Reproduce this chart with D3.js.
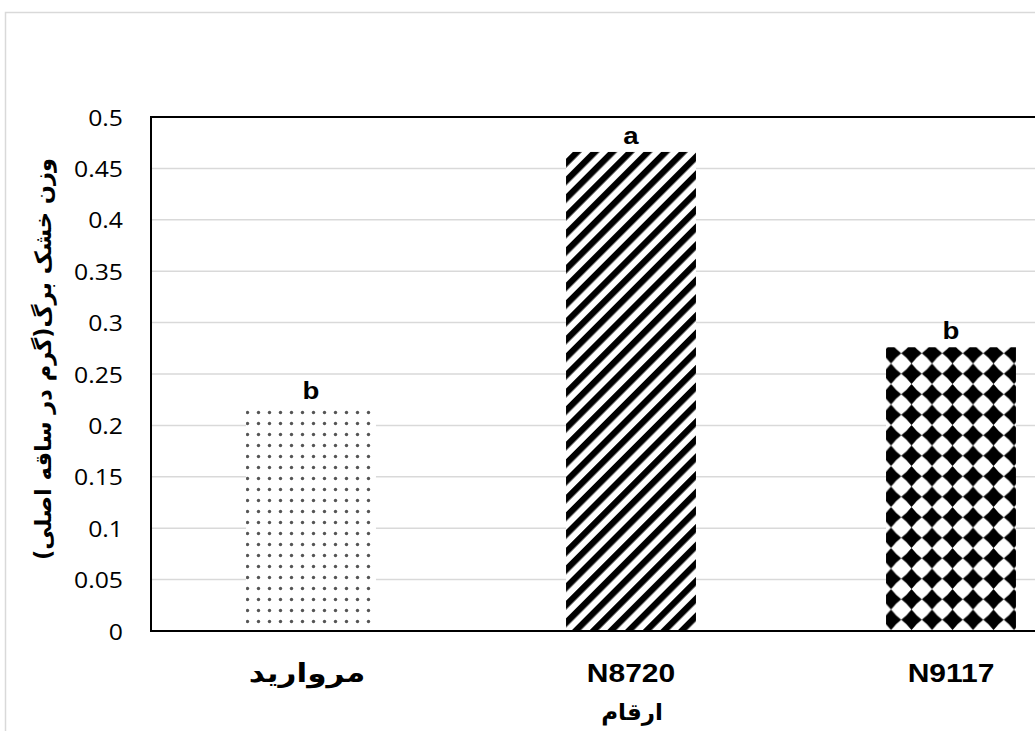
<!DOCTYPE html>
<html lang="fa">
<head>
<meta charset="UTF-8">
<title>وزن خشک برگ</title>
<script src="https://d3js.org/d3.v7.min.js"></script>
<style>
    body { margin: 0; background: #fff; }
    svg { display: block; }
</style>
</head>
<body>
<div id="chart"></div>
<script>
// Data
const categories = ["مرواريد", "N8720", "N9117"];
const values = [0.218, 0.466, 0.276];
const letters = ["b", "a", "b"];
const yTicks = [0, 0.05, 0.1, 0.15, 0.2, 0.25, 0.3, 0.35, 0.4, 0.45, 0.5];
const yTitle = "وزن خشک برگ(گرم در ساقه اصلی)";
const xTitle = "ارقام";

const width = 1035, height = 731;
const plot = { left: 151, top: 117, right: 1111, bottom: 631 };

const svg = d3.select("#chart").append("svg")
    .attr("width", width)
    .attr("height", height);

// Outer chart frame (cut off at the right and bottom)
svg.append("rect")
    .attr("x", 5.5).attr("y", 12.5)
    .attr("width", 1100).attr("height", 800)
    .attr("fill", "#fff")
    .attr("stroke", "#d9d9d9")
    .attr("stroke-width", 1.5);

const x = d3.scaleBand()
    .domain(categories)
    .range([plot.left, plot.right])
    .paddingInner(0.594)
    .paddingOuter(0.297);

const y = d3.scaleLinear()
    .domain([0, 0.5])
    .range([plot.bottom, plot.top]);

// Patterns
const defs = svg.append("defs");

const dots = defs.append("pattern")
    .attr("id", "dots")
    .attr("patternUnits", "userSpaceOnUse")
    .attr("width", 11).attr("height", 11);
dots.append("rect").attr("width", 11).attr("height", 11).attr("fill", "#fff");
dots.append("circle").attr("cx", 5.5).attr("cy", 5.5).attr("r", 1.7).attr("fill", "#555");

const stripes = defs.append("pattern")
    .attr("id", "stripes")
    .attr("patternUnits", "userSpaceOnUse")
    .attr("width", 12.5).attr("height", 12.5)
    .attr("patternTransform", "rotate(45)");
stripes.append("rect").attr("width", 12.5).attr("height", 12.5).attr("fill", "#fff");
stripes.append("rect").attr("width", 6.3).attr("height", 12.5).attr("fill", "#000");

// concave diamond, tips almost touching the neighbours
const tile = 20.5, c = tile / 2, tip = 10.2, k = 4.4;
const diamonds = defs.append("pattern")
    .attr("id", "diamonds")
    .attr("patternUnits", "userSpaceOnUse")
    .attr("x", x("N9117") + 5 - c)
    .attr("y", y(values[2]) + 6 - c)
    .attr("width", tile).attr("height", tile);
diamonds.append("rect").attr("width", tile).attr("height", tile).attr("fill", "#fff");
diamonds.append("path")
    .attr("d", `M${c},${c - tip}Q${c + k},${c - k} ${c + tip},${c}Q${c + k},${c + k} ${c},${c + tip}` +
               `Q${c - k},${c + k} ${c - tip},${c}Q${c - k},${c - k} ${c},${c - tip}Z`)
    .attr("fill", "#000");

const fills = ["url(#dots)", "url(#stripes)", "url(#diamonds)"];

// Gridlines
svg.append("g")
    .selectAll("line")
    .data(yTicks.slice(1))
    .join("line")
    .attr("x1", plot.left).attr("x2", plot.right)
    .attr("y1", d => y(d)).attr("y2", d => y(d))
    .attr("stroke", "#d9d9d9")
    .attr("stroke-width", 1.5);

// Bars
svg.append("g")
    .selectAll("rect")
    .data(values)
    .join("rect")
    .attr("x", (d, i) => x(categories[i]))
    .attr("y", d => y(d))
    .attr("width", x.bandwidth())
    .attr("height", d => y(0) - y(d))
    .attr("fill", (d, i) => fills[i]);

// Plot frame
svg.append("path")
    .attr("d", `M${plot.right},${plot.top}H${plot.left}V${plot.bottom}H${plot.right}`)
    .attr("fill", "none")
    .attr("stroke", "#000")
    .attr("stroke-width", 2);

// Y tick labels
svg.append("g")
    .selectAll("text")
    .data(yTicks)
    .join("text")
    .attr("transform", d => `translate(123,${y(d)}) scale(1.1,1)`)
    .attr("text-anchor", "end")
    .attr("dominant-baseline", "central")
    .attr("font-family", "'Open Sans', sans-serif")
    .attr("font-size", 22.5)
    .attr("fill", "#000")
    .text(d => d);

// Significance letters
svg.append("g")
    .selectAll("text")
    .data(values)
    .join("text")
    .attr("transform", (d, i) => `translate(${x(categories[i]) + x.bandwidth() / 2},${y(d) - 8}) scale(1.15,1)`)
    .attr("text-anchor", "middle")
    .attr("font-family", "'Liberation Sans', Arial, sans-serif")
    .attr("font-weight", "bold")
    .attr("font-size", 24)
    .text((d, i) => letters[i]);

// X category labels
svg.append("g")
    .selectAll("text")
    .data(categories)
    .join("text")
    .attr("transform", d => `translate(${x(d) + x.bandwidth() / 2 - (d === "مرواريد" ? 4 : 0)},682) scale(1.2,1)`)
    .attr("text-anchor", "middle")
    .attr("font-family", "'Liberation Sans', 'DejaVu Sans', sans-serif")
    .attr("font-weight", "bold")
    .attr("font-size", d => d === "مرواريد" ? 26 : 25)
    .text(d => d);

// Axis titles
svg.append("text")
    .attr("transform", `translate(632,720)`)
    .attr("text-anchor", "middle")
    .attr("font-family", "'DejaVu Sans', sans-serif")
    .attr("font-weight", "bold")
    .attr("font-size", 23)
    .text(xTitle);

svg.append("text")
    .attr("transform", `translate(43,${(plot.top + plot.bottom) / 2 - 15}) rotate(-90)`)
    .attr("text-anchor", "middle")
    .attr("dominant-baseline", "central")
    .attr("font-family", "'DejaVu Sans', sans-serif")
    .attr("font-weight", "bold")
    .attr("font-size", 22.5)
    .text(yTitle);
</script>
</body>
</html>
